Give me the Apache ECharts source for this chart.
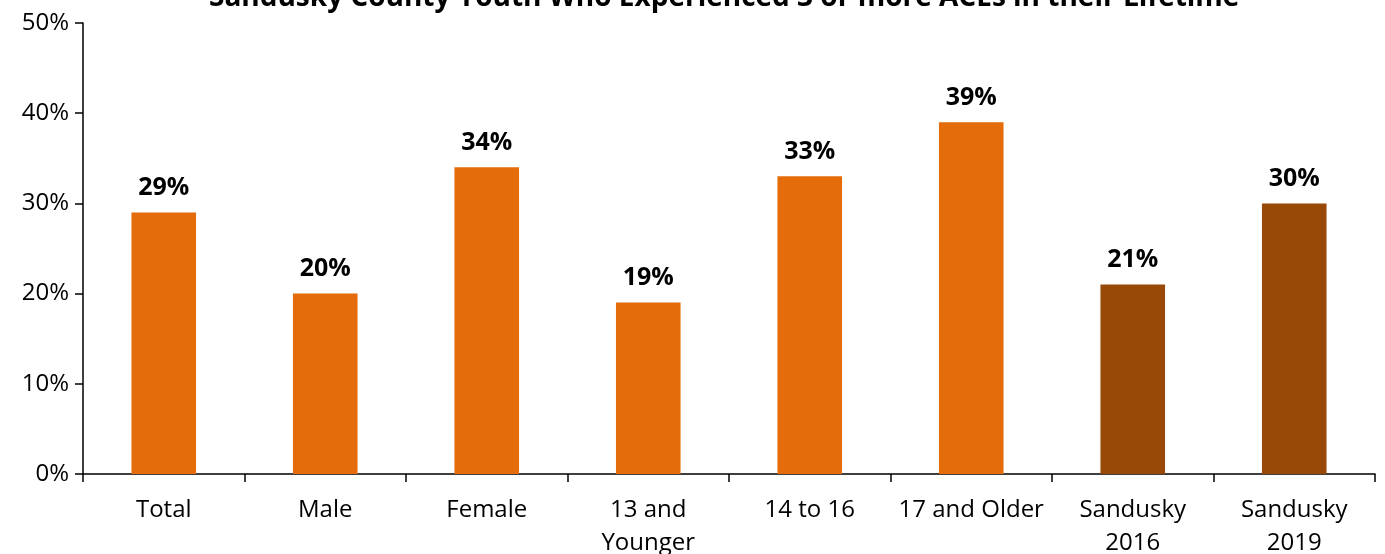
<!DOCTYPE html>
<html>
<head>
<meta charset="utf-8">
<script src="https://cdn.jsdelivr.net/npm/echarts@6/dist/echarts.min.js"></script>
<style>
  html, body { margin: 0; padding: 0; background: #fff; }
  #root { width: 1385px; height: 554px; }
</style>
</head>
<body>
<div id="root"></div>
<script>
var categories = ['Total', 'Male', 'Female', '13 and\nYounger', '14 to 16', '17 and Older', 'Sandusky\n2016', 'Sandusky\n2019'];
var values = [29, 20, 34, 19, 33, 39, 21, 30];
var isTrend = [false, false, false, false, false, false, true, true];
var yTicks = [0, 10, 20, 30, 40, 50];

var FONT = '"Open Sans", "Noto Sans", sans-serif';

var myChart = echarts.init(document.getElementById('root'));

var option = {
  animation: false,
  title: {
    text: 'Sandusky County Youth Who Experienced 3 or more ACEs in their Lifetime',
    left: 204,
    top: -21,
    textStyle: { fontFamily: FONT, fontSize: 28, fontWeight: 'bold', color: '#000' }
  },
  grid: { left: 83, right: 10, top: 23, bottom: 80, outerBoundsMode: 'none', containLabel: false },
  xAxis: {
    type: 'category',
    data: categories,
    axisLine: { lineStyle: { color: '#000', width: 1.5 } },
    axisTick: { show: true, alignWithLabel: false, length: 8, lineStyle: { color: '#000', width: 1.5 } },
    axisLabel: { fontFamily: FONT, fontSize: 24, color: '#000', margin: 20, lineHeight: 33, interval: 0 }
  },
  yAxis: {
    type: 'value',
    min: yTicks[0],
    max: yTicks[yTicks.length - 1],
    interval: 10,
    splitLine: { show: false },
    axisLine: { show: true, lineStyle: { color: '#000', width: 1.5 } },
    axisTick: { show: true, length: 8, lineStyle: { color: '#000', width: 1.5 } },
    axisLabel: { fontFamily: FONT, fontSize: 24, color: '#000', margin: 14, formatter: '{value}%' }
  },
  series: [{
    type: 'bar',
    barWidth: '40%',
    data: values.map(function (v, i) {
      return { value: v, itemStyle: { color: isTrend[i] ? '#984807' : '#E46C0A' } };
    }),
    label: {
      show: true,
      position: 'top',
      distance: 12,
      fontFamily: FONT,
      fontSize: 25,
      fontWeight: 'bold',
      color: '#000',
      formatter: '{c}%'
    }
  }]
};

option && myChart.setOption(option);
</script>
</body>
</html>
